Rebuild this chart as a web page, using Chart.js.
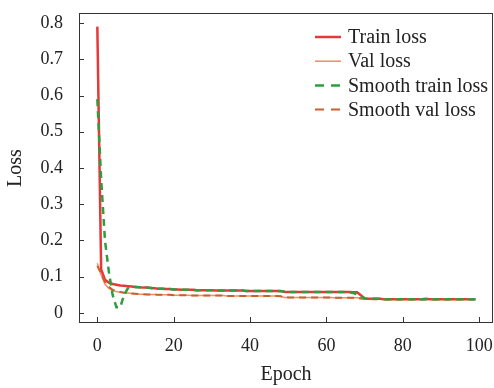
<!DOCTYPE html>
<html>
<head>
<meta charset="utf-8">
<script src="https://cdn.jsdelivr.net/npm/chart.js@4.4.1/dist/chart.umd.min.js"></script>
<style>
  html, body { margin: 0; padding: 0; background: #fff; }
  #wrap { width: 494px; height: 388px; }
</style>
</head>
<body>
<div id="wrap"><canvas id="lossChart"></canvas></div>
<script>
// epochs and loss values
var epochs = [
  0, 1, 2, 3, 4, 5, 6, 7, 8, 9, 10, 11, 12, 13, 14, 15, 16, 17, 18, 19,
  20, 21, 22, 23, 24, 25, 26, 27, 28, 29, 30, 31, 32, 33, 34, 35, 36, 37, 38, 39,
  40, 41, 42, 43, 44, 45, 46, 47, 48, 49, 50, 51, 52, 53, 54, 55, 56, 57, 58, 59,
  60, 61, 62, 63, 64, 65, 66, 67, 68, 69, 70, 71, 72, 73, 74, 75, 76, 77, 78, 79,
  80, 81, 82, 83, 84, 85, 86, 87, 88, 89, 90, 91, 92, 93, 94, 95, 96, 97, 98, 99
];
var trainLoss = [
  0.790, 0.120, 0.092, 0.084, 0.080, 0.078, 0.076, 0.075, 0.074, 0.073,
  0.072, 0.071, 0.070, 0.070, 0.069, 0.068, 0.067, 0.067, 0.066, 0.066,
  0.065, 0.065, 0.064, 0.064, 0.064, 0.064, 0.063, 0.063, 0.063, 0.063,
  0.063, 0.062, 0.062, 0.062, 0.062, 0.062, 0.062, 0.062, 0.062, 0.061,
  0.061, 0.061, 0.061, 0.061, 0.061, 0.061, 0.061, 0.061, 0.061, 0.058,
  0.058, 0.058, 0.058, 0.058, 0.058, 0.058, 0.058, 0.058, 0.058, 0.058,
  0.058, 0.058, 0.058, 0.058, 0.058, 0.058, 0.058, 0.057, 0.057, 0.049,
  0.040, 0.039, 0.039, 0.039, 0.039, 0.038, 0.038, 0.038, 0.038, 0.038,
  0.038, 0.038, 0.038, 0.038, 0.038, 0.038, 0.039, 0.038, 0.038, 0.038,
  0.038, 0.038, 0.038, 0.038, 0.038, 0.038, 0.038, 0.038, 0.038, 0.038
];
var valLoss = [
  0.137, 0.105, 0.080, 0.068, 0.062, 0.059, 0.057, 0.056, 0.055, 0.054,
  0.053, 0.052, 0.052, 0.051, 0.051, 0.051, 0.050, 0.050, 0.050, 0.050,
  0.049, 0.049, 0.049, 0.049, 0.049, 0.048, 0.048, 0.048, 0.048, 0.048,
  0.048, 0.048, 0.048, 0.048, 0.047, 0.047, 0.047, 0.047, 0.047, 0.047,
  0.047, 0.047, 0.047, 0.047, 0.047, 0.047, 0.047, 0.047, 0.046, 0.043,
  0.043, 0.043, 0.043, 0.043, 0.043, 0.043, 0.043, 0.043, 0.043, 0.043,
  0.043, 0.043, 0.042, 0.042, 0.042, 0.042, 0.042, 0.042, 0.042, 0.040,
  0.039, 0.038, 0.038, 0.038, 0.038, 0.038, 0.038, 0.038, 0.038, 0.038,
  0.038, 0.038, 0.038, 0.038, 0.038, 0.039, 0.038, 0.038, 0.038, 0.038,
  0.038, 0.038, 0.038, 0.038, 0.038, 0.038, 0.038, 0.038, 0.038, 0.038
];
var smoothTrainLoss = [
  0.590, 0.370, 0.200, 0.115, 0.050, 0.016, 0.016, 0.050, 0.068, 0.072,
  0.072, 0.071, 0.070, 0.070, 0.069, 0.068, 0.067, 0.067, 0.066, 0.066,
  0.065, 0.065, 0.064, 0.064, 0.064, 0.064, 0.063, 0.063, 0.063, 0.063,
  0.063, 0.062, 0.062, 0.062, 0.062, 0.062, 0.062, 0.062, 0.062, 0.061,
  0.061, 0.061, 0.061, 0.061, 0.061, 0.061, 0.061, 0.061, 0.060, 0.059,
  0.058, 0.058, 0.058, 0.058, 0.058, 0.058, 0.058, 0.058, 0.058, 0.058,
  0.058, 0.058, 0.058, 0.058, 0.058, 0.058, 0.057, 0.055, 0.052, 0.046,
  0.041, 0.039, 0.039, 0.039, 0.039, 0.038, 0.038, 0.038, 0.038, 0.038,
  0.038, 0.038, 0.038, 0.038, 0.038, 0.038, 0.038, 0.038, 0.038, 0.038,
  0.038, 0.038, 0.038, 0.038, 0.038, 0.038, 0.038, 0.038, 0.038, 0.038
];
var smoothValLoss = [
  0.130, 0.108, 0.086, 0.072, 0.064, 0.060, 0.058, 0.056, 0.055, 0.054,
  0.053, 0.052, 0.052, 0.051, 0.051, 0.051, 0.050, 0.050, 0.050, 0.050,
  0.049, 0.049, 0.049, 0.049, 0.049, 0.048, 0.048, 0.048, 0.048, 0.048,
  0.048, 0.048, 0.048, 0.048, 0.047, 0.047, 0.047, 0.047, 0.047, 0.047,
  0.047, 0.047, 0.047, 0.047, 0.047, 0.047, 0.047, 0.047, 0.046, 0.044,
  0.043, 0.043, 0.043, 0.043, 0.043, 0.043, 0.043, 0.043, 0.043, 0.043,
  0.043, 0.043, 0.042, 0.042, 0.042, 0.042, 0.042, 0.042, 0.041, 0.040,
  0.039, 0.038, 0.038, 0.038, 0.038, 0.038, 0.038, 0.038, 0.038, 0.038,
  0.038, 0.038, 0.038, 0.038, 0.038, 0.038, 0.038, 0.038, 0.038, 0.038,
  0.038, 0.038, 0.038, 0.038, 0.038, 0.038, 0.038, 0.038, 0.038, 0.038
];
var xTicks = [0, 20, 40, 60, 80, 100];
var yTicks = [0, 0.1, 0.2, 0.3, 0.4, 0.5, 0.6, 0.7, 0.8];

var serif = "'Liberation Serif', 'Times New Roman', serif";

function toPoints(values) {
  return epochs.map(function (e, i) { return { x: e, y: values[i] }; });
}

// frame box + inward ticks
var framePlugin = {
  id: 'frame',
  afterDraw: function (chart) {
    var ctx = chart.ctx, a = chart.chartArea;
    var xs = chart.scales.x, ys = chart.scales.y;
    ctx.save();
    ctx.strokeStyle = '#333';
    ctx.lineWidth = 1;
    ctx.strokeRect(a.left + 0.5, a.top + 0.5, a.right - a.left - 1, a.bottom - a.top - 1);
    ctx.beginPath();
    xTicks.forEach(function (v) {
      var px = Math.round(xs.getPixelForValue(v)) + 0.5;
      ctx.moveTo(px, a.bottom);
      ctx.lineTo(px, a.bottom - 6);
    });
    yTicks.forEach(function (v) {
      var py = Math.round(ys.getPixelForValue(v)) + 0.5;
      ctx.moveTo(a.left, py);
      ctx.lineTo(a.left + 5, py);
    });
    ctx.stroke();
    ctx.restore();
  }
};

// legend drawn inside the plot, top right
var legendPlugin = {
  id: 'innerLegend',
  afterDatasetsDraw: function (chart) {
    var ctx = chart.ctx;
    ctx.save();
    ctx.font = '20px ' + serif;
    ctx.textBaseline = 'middle';
    ctx.fillStyle = '#222';
    chart.data.datasets.forEach(function (ds, i) {
      var y = 37 + i * 24.2;
      ctx.strokeStyle = ds.borderColor;
      ctx.lineWidth = ds.borderWidth;
      ctx.setLineDash(ds.borderDash ? [9, 7] : []);
      ctx.beginPath();
      ctx.moveTo(315, y);
      ctx.lineTo(341, y);
      ctx.stroke();
      ctx.setLineDash([]);
      ctx.fillText(ds.label, 348, y + 1);
    });
    ctx.restore();
  }
};

new Chart(document.getElementById('lossChart'), {
  type: 'line',
  data: {
    datasets: [
      { label: 'Train loss', data: toPoints(trainLoss), borderColor: '#e63838', borderWidth: 2.5, order: 2 },
      { label: 'Val loss', data: toPoints(valLoss), borderColor: '#f08c68', borderWidth: 1.5, order: 3 },
      { label: 'Smooth train loss', data: toPoints(smoothTrainLoss), borderColor: '#2e9e3e', borderWidth: 2.5, borderDash: [7, 5], order: 0 },
      { label: 'Smooth val loss', data: toPoints(smoothValLoss), borderColor: '#c8622c', borderWidth: 2, borderDash: [7, 5], order: 1 }
    ]
  },
  options: {
    responsive: true,
    maintainAspectRatio: false,
    animation: false,
    layout: { padding: { top: 13, right: 1, left: 0, bottom: 0 } },
    elements: { point: { radius: 0 }, line: { tension: 0 } },
    plugins: { legend: { display: false }, tooltip: { enabled: false } },
    scales: {
      x: {
        type: 'linear',
        min: -4.8,
        max: 103.6,
        grid: { display: false, drawTicks: false },
        border: { display: false },
        afterBuildTicks: function (s) { s.ticks = xTicks.map(function (v) { return { value: v }; }); },
        afterFit: function (s) { s.height = 65; s.paddingLeft = 0; s.paddingRight = 0; },
        ticks: { color: '#222', padding: 12, font: { family: serif, size: 18 }, maxRotation: 0 },
        title: { display: true, text: 'Epoch', color: '#222', font: { family: serif, size: 20 }, padding: { top: 0, bottom: 1 } }
      },
      y: {
        min: -0.0276,
        max: 0.8276,
        grid: { display: false, drawTicks: false },
        border: { display: false },
        afterBuildTicks: function (s) { s.ticks = yTicks.map(function (v) { return { value: v }; }); },
        afterFit: function (s) { s.width = 79; s.paddingTop = 0; s.paddingBottom = 0; },
        ticks: { color: '#222', padding: 16, font: { family: serif, size: 18 }, callback: function (v) { return String(v); } },
        title: { display: true, text: 'Loss', color: '#222', font: { family: serif, size: 20 }, padding: { top: 4, bottom: 0 } }
      }
    }
  },
  plugins: [framePlugin, legendPlugin]
});
</script>
</body>
</html>
